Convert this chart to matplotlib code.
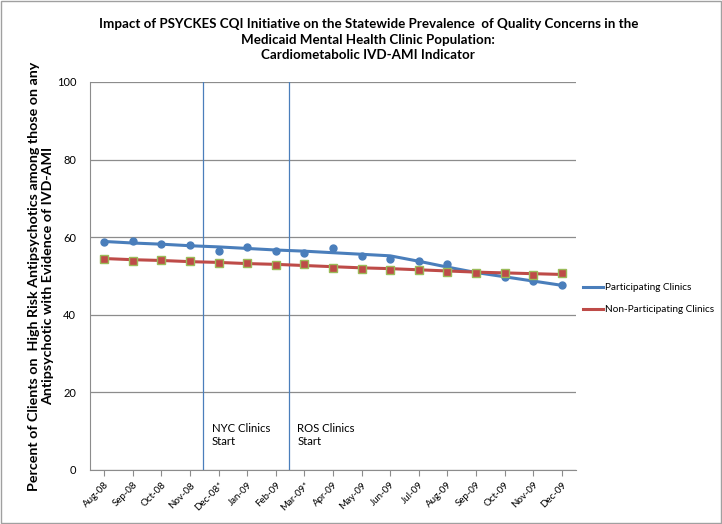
import numpy as np
import matplotlib.pyplot as plt

months = ['Aug-08', 'Sep-08', 'Oct-08', 'Nov-08', 'Dec-08*', 'Jan-09', 'Feb-09', 'Mar-09*',
          'Apr-09', 'May-09', 'Jun-09', 'Jul-09', 'Aug-09', 'Sep-09', 'Oct-09', 'Nov-09', 'Dec-09']

# observed monthly values (markers)
part_pts = [58.7, 59.0, 58.2, 58.0, 56.4, 57.5, 56.5, 56.0, 57.1, 55.2, 54.5,
            53.8, 53.2, 50.9, 49.8, 48.7, 47.6]
nonpart_pts = [54.5, 53.9, 54.1, 53.9, 53.3, 53.3, 52.8, 53.1, 52.1, 51.7, 51.5,
               51.5, 51.0, 50.8, 50.8, 50.3, 50.8]

# trend lines drawn through them
part_line = [58.9, 58.5, 58.2, 57.8, 57.5, 57.1, 56.7, 56.4, 56.0, 55.6, 55.2,
             53.8, 52.3, 50.9, 49.8, 48.7, 47.6]
nonpart_line = [54.5, 54.2, 54.0, 53.7, 53.5, 53.2, 53.0, 52.7, 52.4, 52.1, 51.9,
                51.6, 51.3, 51.0, 50.8, 50.6, 50.4]

events = [(3.47, 'NYC Clinics\nStart'), (6.45, 'ROS Clinics\nStart')]

blue = '#4a7ebb'
red = '#be4b48'

plt.rcParams['font.family'] = ['Lato', 'DejaVu Sans']

fig = plt.figure(figsize=(7.22, 5.24), dpi=100)
ax = fig.add_axes([90 / 722, 1 - 470 / 524, 486 / 722, 388 / 524])

x = np.arange(len(months))
ax.plot(x, part_line, color=blue, lw=2.2, label='Participating Clinics', zorder=3)
ax.plot(x, nonpart_line, color=red, lw=2.2, label='Non-Participating Clinics', zorder=3)
ax.plot(x, part_pts, 'o', color=blue, ms=5, zorder=4)
ax.plot(x, nonpart_pts, 's', color=red, mec='#9bbb59', mew=1, ms=5.5, zorder=4)

for pos, txt in events:
    ax.axvline(pos, color=blue, lw=0.9, zorder=2)
    ax.text(pos + 0.3, 12, txt, fontsize=8.2, va='top', ha='left')

ax.set_xlim(-0.5, len(months) - 0.5)
ax.set_ylim(0, 100)
ax.set_yticks(range(0, 101, 20))
ax.grid(axis='y', color='#8c8c8c', lw=0.9)
ax.set_axisbelow(True)
ax.set_xticks(x)
ax.set_xticklabels(months, rotation=45, ha='right', rotation_mode='anchor', fontsize=7)
ax.tick_params(axis='y', labelsize=8, length=0, pad=10)
ax.tick_params(axis='x', length=4, color='#8c8c8c')
for s in ['top', 'right']:
    ax.spines[s].set_visible(False)
for s in ['left', 'bottom']:
    ax.spines[s].set_color('#8c8c8c')

ax.set_ylabel('Percent of Clients on  High Risk Antipsychotics among those on any\n'
              'Antipsychotic with Evidence of IVD-AMI', fontsize=10.3, fontweight='bold', labelpad=2)

fig.text(0.51, 0.965, 'Impact of PSYCKES CQI Initiative on the Statewide Prevalence  of Quality Concerns in the\n'
         'Medicaid Mental Health Clinic Population:\nCardiometabolic IVD-AMI Indicator',
         ha='center', va='top', fontsize=9.6, fontweight='bold', linespacing=1.35)

fig.legend(loc='center left', bbox_to_anchor=(574 / 722, 1 - 299 / 524), frameon=False,
           fontsize=7.2, handlelength=2.0, handletextpad=0.2, labelspacing=1.3)

fig.patches.append(plt.Rectangle((0.001, 0.001), 0.998, 0.998, transform=fig.transFigure,
                                 fill=False, ec='#a0a0a0', lw=1))

fig.savefig('out.png', dpi=100)
